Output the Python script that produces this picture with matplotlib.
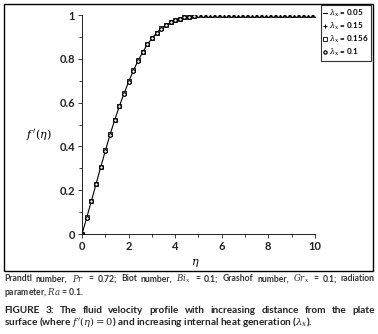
import matplotlib
matplotlib.use("Agg")
import matplotlib.pyplot as plt
import numpy as np
from matplotlib.patches import Rectangle
from matplotlib.ticker import MultipleLocator, FuncFormatter

eta = np.round(np.arange(0, 10.01, 0.2), 1)
fp_005 = [0.000, 0.075, 0.150, 0.228, 0.305, 0.380, 0.453, 0.520, 0.583, 0.640,
          0.695, 0.745, 0.790, 0.830, 0.865, 0.893, 0.918, 0.938, 0.953, 0.966,
          0.976, 0.983, 0.989, 0.993, 0.996, 0.998, 0.999] + [1.0] * 24
fp_015 = [0.000, 0.076, 0.151, 0.229, 0.306, 0.382, 0.455, 0.522, 0.585, 0.642,
          0.697, 0.747, 0.792, 0.832, 0.866, 0.894, 0.919, 0.939, 0.954, 0.967,
          0.977, 0.984, 0.989, 0.993, 0.996, 0.998, 0.999] + [1.0] * 24
fp_0156 = [0.000, 0.076, 0.151, 0.230, 0.307, 0.383, 0.456, 0.523, 0.586, 0.643,
           0.698, 0.748, 0.793, 0.832, 0.867, 0.895, 0.919, 0.939, 0.954, 0.967,
           0.977, 0.984, 0.989, 0.993, 0.996, 0.998, 0.999] + [1.0] * 24
fp_01 = [0.000, 0.075, 0.150, 0.229, 0.306, 0.381, 0.454, 0.521, 0.584, 0.641,
         0.696, 0.746, 0.791, 0.831, 0.866, 0.894, 0.918, 0.938, 0.953, 0.966,
         0.976, 0.983, 0.989, 0.993, 0.996, 0.998, 0.999] + [1.0] * 24

labels = [r"$\lambda_x$ = 0.05", r"$\lambda_x$ = 0.15",
          r"$\lambda_x$ = 0.156", r"$\lambda_x$ = 0.1"]

note1 = r"Prandtl number, $Pr$ = 0.72; Biot number, $Bi_x$ = 0.1; Grashof number, $Gr_x$ = 0.1; radiation"
note2 = r"parameter, $Ra$ = 0.1."
cap1 = "FIGURE 3: The fluid velocity profile with increasing distance from the plate"
cap2 = r"surface (where $f\,'(\eta) = 0$) and increasing internal heat generation ($\lambda_x$)."

plt.rcParams["font.family"] = ["Lato", "DejaVu Sans"]
plt.rcParams["mathtext.fontset"] = "dejavuserif"

fig = plt.figure(figsize=(3.78, 3.34), dpi=100)
ax = fig.add_axes([0.217, 0.299, 0.616, 0.656])

ax.plot(eta, fp_005, color="black", lw=0.8, label=labels[0])
ax.plot(eta, fp_015, ls="none", marker="+", ms=3.5, mew=0.7, color="black", label=labels[1])
ax.plot(eta, fp_0156, ls="none", marker="s", ms=3.2, mew=0.6, mfc="white", mec="black", label=labels[2])
ax.plot(eta, fp_01, ls="none", marker="o", ms=2.6, mew=0.9, mfc="white", mec="black", label=labels[3])

ax.set_xlim(0, 10)
ax.set_ylim(0, 1)
ax.xaxis.set_major_locator(MultipleLocator(2))
ax.xaxis.set_minor_locator(MultipleLocator(1))
ax.yaxis.set_major_locator(MultipleLocator(0.2))
ax.yaxis.set_minor_locator(MultipleLocator(0.1))
ax.yaxis.set_major_formatter(FuncFormatter(lambda v, p: "{:g}".format(round(v, 2))))
for s in ["top", "right"]:
    ax.spines[s].set_visible(False)
for s in ["left", "bottom"]:
    ax.spines[s].set_linewidth(0.6)
ax.tick_params(which="both", direction="out", width=0.6, labelsize=8, colors="#222222", pad=2)
ax.tick_params(which="major", length=3)
ax.tick_params(which="minor", length=2.5)
for t in ax.get_xticklabels() + ax.get_yticklabels():
    t.set_fontweight("bold")

fig.text(0.104, 0.596, r"$f\,'(\eta)$", fontsize=8, ha="center", va="center")
fig.text(0.516, 0.213, r"$\eta$", fontsize=8, ha="center", va="center")

leg = fig.legend(loc="upper left", bbox_to_anchor=(0.849, 0.985), fontsize=5.8,
                 frameon=True, fancybox=False, edgecolor="black", handlelength=0.5,
                 handletextpad=0.25, borderpad=0.3, labelspacing=0.25, borderaxespad=0,
                 markerscale=0.9)
leg.get_frame().set_linewidth(0.8)
for t in leg.get_texts():
    t.set_fontweight("bold")

fig.patches.append(Rectangle((0.0106, 0.189), 0.976, 0.799, transform=fig.transFigure,
                             fill=False, edgecolor="black", lw=1.0))


def justify(line, y, x0, x1, **kw):
    # spread the words of one line so it fills x0..x1 (figure fraction)
    merged = []
    for w in line.split(" "):
        if merged and merged[-1].count("$") % 2 == 1:
            merged[-1] += " " + w
        else:
            merged.append(w)
    texts = [fig.text(0, y, w, ha="left", va="center", **kw) for w in merged]
    r = fig.canvas.get_renderer()
    W = fig.bbox.width
    widths = [t.get_window_extent(r).width / W for t in texts]
    gap = (x1 - x0 - sum(widths)) / (len(texts) - 1)
    x = x0
    for t, w in zip(texts, widths):
        t.set_x(x)
        x += w + gap


note_kw = dict(fontsize=6.2, fontweight="bold", color="#333333")
cap_kw = dict(fontsize=7.2, fontweight="bold", color="#222222")
justify(note1, 0.165, 0.0106, 0.992, **note_kw)
fig.text(0.0106, 0.123, note2, ha="left", va="center", **note_kw)
justify(cap1, 0.069, 0.0106, 0.992, **cap_kw)
fig.text(0.0106, 0.036, cap2, ha="left", va="center", **cap_kw)

fig.savefig("out.png", dpi=100)
